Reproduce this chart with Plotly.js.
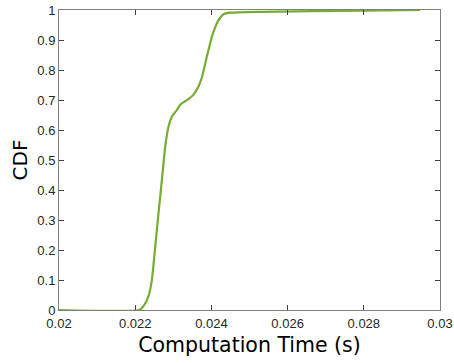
<!DOCTYPE html>
<html>
<head>
<meta charset="utf-8">
<script src="https://cdn.plot.ly/plotly-3.0.1.min.js"></script>
<style>html,body{margin:0;padding:0;background:#fff;}#chart{width:454px;height:363px;}</style>
</head>
<body>
<div id="chart"></div>
<script>
const timeValues = [0.0200, 0.02210, 0.022219, 0.022350, 0.022439, 0.022526, 0.022612, 0.022701, 0.022788, 0.022874, 0.022964, 0.023095, 0.023181, 0.023300, 0.023399, 0.023530, 0.023661, 0.023750, 0.023881, 0.024013, 0.024099, 0.024160, 0.024240, 0.024317, 0.024492, 0.02533, 0.02798, 0.02948];
const cdfValues = [0, 0, 0.013, 0.046, 0.101, 0.212, 0.323, 0.434, 0.545, 0.612, 0.645, 0.667, 0.684, 0.695, 0.703, 0.718, 0.745, 0.775, 0.845, 0.911, 0.942, 0.960, 0.976, 0.986, 0.991, 0.994, 0.998, 1.0];
const xTicks = [0.02, 0.022, 0.024, 0.026, 0.028, 0.03];
const xTickText = ["0.02", "0.022", "0.024", "0.026", "0.028", "0.03"];
const yTicks = [0, 0.1, 0.2, 0.3, 0.4, 0.5, 0.6, 0.7, 0.8, 0.9, 1];
const yTickText = ["0", "0.1", "0.2", "0.3", "0.4", "0.5", "0.6", "0.7", "0.8", "0.9", "1"];

const trace = {
  x: timeValues, y: cdfValues, type: 'scatter', mode: 'lines',
  line: {color: '#77AC30', width: 2.2, shape: 'spline', smoothing: 0.5},
  hoverinfo: 'none'
};
const axisCommon = {
  showline: true, mirror: 'ticks', linecolor: '#808080', linewidth: 1,
  ticks: 'inside', ticklen: 5, tickcolor: '#404040', tickwidth: 1,
  showgrid: false, zeroline: false,
  tickfont: {family: 'Liberation Sans, Arial, sans-serif', size: 13, color: '#262626'}
};
const layout = {
  width: 454, height: 363,
  margin: {l: 58.7, r: 14, t: 10, b: 52.5},
  paper_bgcolor: '#fff', plot_bgcolor: '#fff',
  showlegend: false,
  xaxis: Object.assign({}, axisCommon, {
    range: [0.02, 0.03], tickmode: 'array', tickvals: xTicks, ticktext: xTickText,
    ticklabelstandoff: 1,
    title: {text: 'Computation Time (s)', font: {family: 'DejaVu Sans, sans-serif', size: 20.5, color: '#000'}, standoff: 8}
  }),
  yaxis: Object.assign({}, axisCommon, {
    range: [0, 1], tickmode: 'array', tickvals: yTicks, ticktext: yTickText,
    title: {text: 'CDF', font: {family: 'DejaVu Sans, sans-serif', size: 20, color: '#000'}, standoff: 4}
  })
};
Plotly.newPlot('chart', [trace], layout, {staticPlot: true, displayModeBar: false});
</script>
</body>
</html>
